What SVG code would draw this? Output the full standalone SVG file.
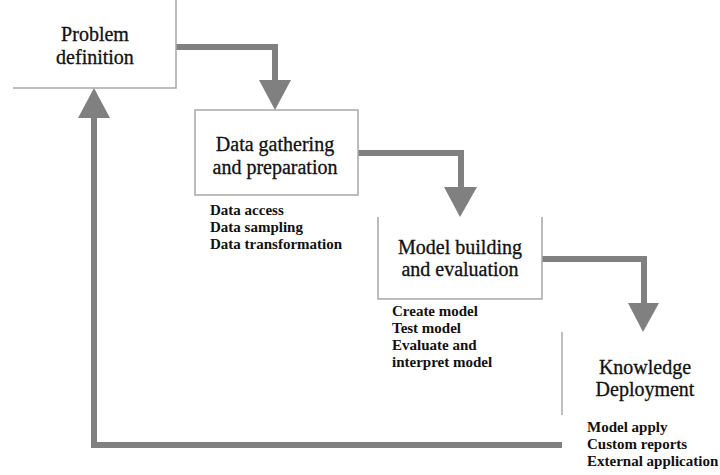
<svg xmlns="http://www.w3.org/2000/svg" width="720" height="475" viewBox="0 0 720 475">
<style>
.edge{fill:none;stroke:#a8a8a8;stroke-width:1.5}
.flow{fill:none;stroke:#808080;stroke-width:6;stroke-linejoin:miter}
.head{fill:#808080}
text{font-family:'Liberation Serif','DejaVu Serif',serif;fill:#111111}
.t{font-size:20px;text-anchor:middle;stroke:#111111;stroke-width:0.3}
.s{font-size:15px;font-weight:bold}
</style>
<rect width="720" height="475" fill="#ffffff"/>
<g id="connectors">
<polyline class="flow" points="176,47 275,47 275,82"/>
<polygon class="head" points="259,80 291,80 275,110"/>
<polyline class="flow" points="358,153 461,153 461,189"/>
<polygon class="head" points="444,187 477,187 460,217"/>
<polyline class="flow" points="542,259 644,259 644,305"/>
<polygon class="head" points="628,303 659,303 643,332"/>
<polyline class="flow" points="562,445 94,445 94,116"/>
<polygon class="head" points="78,118 110,118 94,88"/>
</g>
<g id="problem-definition">
<polyline class="edge" points="176,0 176,88 13,88"/>
<text class="t" x="95" y="41">Problem</text>
<text class="t" x="95" y="64">definition</text>
</g>
<g id="data-gathering">
<rect class="edge" x="195" y="110" width="163" height="85"/>
<text class="t" x="275" y="151">Data gathering</text>
<text class="t" x="275" y="174">and preparation</text>
<text class="s" x="210" y="215">Data access</text>
<text class="s" x="210" y="232">Data sampling</text>
<text class="s" x="210" y="249">Data transformation</text>
</g>
<g id="model-building">
<polyline class="edge" points="378,217 378,299 542,299 542,217"/>
<text class="t" x="460" y="254">Model building</text>
<text class="t" x="460" y="276">and evaluation</text>
<text class="s" x="392" y="316">Create model</text>
<text class="s" x="392" y="333">Test model</text>
<text class="s" x="392" y="350">Evaluate and</text>
<text class="s" x="392" y="367">interpret model</text>
</g>
<g id="knowledge-deployment">
<line class="edge" x1="562" y1="332" x2="562" y2="415"/>
<text class="t" x="645" y="374" font-size="18.5">Knowledge</text>
<text class="t" x="645" y="396" font-size="18.5">Deployment</text>
<text class="s" x="587" y="432">Model apply</text>
<text class="s" x="587" y="449">Custom reports</text>
<text class="s" x="587" y="466">External application</text>
</g>
</svg>
